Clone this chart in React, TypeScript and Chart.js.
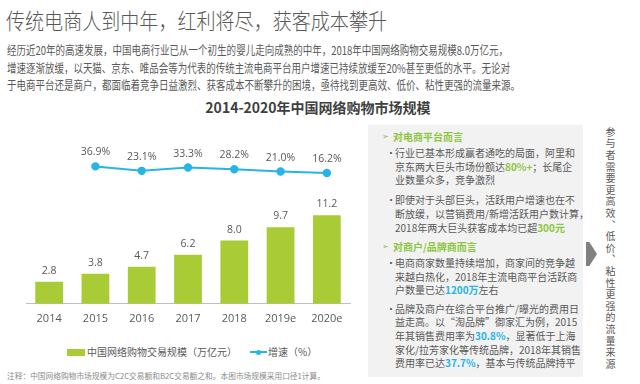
import React, { useEffect, useLayoutEffect, useRef } from "react";
import { Chart, registerables } from "chart.js";

Chart.register(...registerables);

// ---- data ----
const years = ["2014", "2015", "2016", "2017", "2018", "2019e", "2020e"];
const marketScale = [2.8, 3.8, 4.7, 6.2, 8.0, 9.7, 11.2];
const growthRate: (number | null)[] = [null, 36.9, 23.1, 33.3, 28.2, 21.0, 16.2];
const barSeriesName = "中国网络购物交易规模（万亿元）";
const lineSeriesName = "增速（%）";
const chartTitle = "2014-2020年中国网络购物市场规模";
const pageTitle = "传统电商人到中年，红利将尽，获客成本攀升";
const introLines = [
  "经历近20年的高速发展，中国电商行业已从一个初生的婴儿走向成熟的中年，2018年中国网络购物交易规模8.0万亿元，",
  "增速逐渐放缓，以天猫、京东、唯品会等为代表的传统主流电商平台用户增速已持续放缓至20%甚至更低的水平。无论对",
  "于电商平台还是商户，都面临着竞争日益激烈、获客成本不断攀升的困境，亟待找到更高效、低价、粘性更强的流量来源。",
];
const noteText = "注释：中国网络购物市场规模为C2C交易额和B2C交易额之和。本图市场规模采用口径1计算。";
const sideText = "参与者需要更高效、低价、粘性更强的流量来源";

type Seg = { t: string; c?: "g" | "b" };
const platformHeader = "对电商平台而言";
const platformBullets: Seg[][][] = [
  [
    [{ t: "行业已基本形成赢者通吃的局面，阿里和" }],
    [{ t: "京东两大巨头市场份额达" }, { t: "80%+", c: "g" }, { t: "；长尾企" }],
    [{ t: "业数量众多，竞争激烈" }],
  ],
  [
    [{ t: "即使对于头部巨头，活跃用户增速也在不" }],
    [{ t: "断放缓，以营销费用/新增活跃用户数计算，" }],
    [{ t: "2018年两大巨头获客成本均已超" }, { t: "300元", c: "g" }],
  ],
];
const merchantHeader = "对商户/品牌商而言";
const merchantBullets: Seg[][][] = [
  [
    [{ t: "电商商家数量持续增加，商家间的竞争越" }],
    [{ t: "来越白热化，2018年主流电商平台活跃商" }],
    [{ t: "户数量已达" }, { t: "1200万", c: "b" }, { t: "左右" }],
  ],
  [
    [{ t: "品牌及商户在综合平台推广/曝光的费用日" }],
    [{ t: "益走高。以“淘品牌”御家汇为例，2015" }],
    [{ t: "年其销售费用率为" }, { t: "30.8%", c: "b" }, { t: "，显著低于上海" }],
    [{ t: "家化/拉芳家化等传统品牌，2018年其销售" }],
    [{ t: "费用率已达" }, { t: "37.7%", c: "b" }, { t: "，基本与传统品牌持平" }],
  ],
];

// ---- styles ----
const GREEN = "#a8cb36";
const BLUE = "#27b4e6";
const TEXT = "#595959";
const HL_GREEN = "#8cc63e";
const CJK = '"Noto Sans CJK SC", "Open Sans", sans-serif';
const NUM = '"Open Sans", "Noto Sans CJK SC", sans-serif';

function Fit(props: { width: number; style: React.CSSProperties; children: React.ReactNode }) {
  const ref = useRef<HTMLDivElement>(null);
  useLayoutEffect(() => {
    const el = ref.current;
    if (!el) return;
    const apply = () => {
      el.style.transform = "none";
      const w = el.getBoundingClientRect().width;
      if (w > 0) el.style.transform = `scaleX(${props.width / w})`;
    };
    apply();
    (document as any).fonts?.ready?.then(apply);
  });
  return (
    <div
      ref={ref}
      style={{ position: "absolute", whiteSpace: "nowrap", transformOrigin: "0 0", ...props.style }}
    >
      {props.children}
    </div>
  );
}

function Line(props: { segs: Seg[] }) {
  return (
    <div style={{ whiteSpace: "nowrap", height: 13.6 }}>
      {props.segs.map((s, i) => (
        <span
          key={i}
          style={s.c ? { color: s.c === "g" ? HL_GREEN : BLUE, fontWeight: 700 } : undefined}
        >
          {s.t}
        </span>
      ))}
    </div>
  );
}

function Bullet(props: { lines: Seg[][]; mt: number }) {
  return (
    <div style={{ position: "relative", paddingLeft: 27, marginTop: props.mt }}>
      <span style={{ position: "absolute", left: 18, top: 0 }}>•</span>
      {props.lines.map((l, i) => (
        <Line key={i} segs={l} />
      ))}
    </div>
  );
}

function Header(props: { text: string; mt: number }) {
  return (
    <div
      style={{
        position: "relative",
        paddingLeft: 25,
        marginTop: props.mt,
        color: HL_GREEN,
        fontWeight: 700,
        height: 13.6,
        whiteSpace: "nowrap",
      }}
    >
      <span
        style={{
          position: "absolute",
          left: 14,
          top: 0,
          fontWeight: 400,
          fontFamily: '"DejaVu Sans", sans-serif',
          fontSize: 8,
        }}
      >
        ➢
      </span>
      {props.text}
    </div>
  );
}

export default function App() {
  const canvasRef = useRef<HTMLCanvasElement>(null);

  useEffect(() => {
    const valuePlugin = {
      id: "valueLabels",
      afterDatasetsDraw(chart: any) {
        const ctx = chart.ctx;
        ctx.save();
        ctx.fillStyle = TEXT;
        ctx.textAlign = "center";
        ctx.textBaseline = "middle";
        ctx.font = `10.5px ${NUM}`;
        chart.getDatasetMeta(0).data.forEach((el: any, i: number) => {
          ctx.fillText(marketScale[i].toFixed(1), el.x, el.y - 11);
        });
        chart.getDatasetMeta(1).data.forEach((el: any, i: number) => {
          const v = growthRate[i];
          if (v == null) return;
          ctx.fillText(v.toFixed(1) + "%", el.x, el.y - 14);
        });
        ctx.restore();
      },
    };

    const chart = new Chart(canvasRef.current as HTMLCanvasElement, {
      type: "bar",
      data: {
        labels: years,
        datasets: [
          {
            type: "bar",
            label: barSeriesName,
            data: marketScale,
            backgroundColor: GREEN,
            barPercentage: 0.6,
            categoryPercentage: 1,
            yAxisID: "y",
            order: 2,
          },
          {
            type: "line",
            label: lineSeriesName,
            data: growthRate as any,
            borderColor: BLUE,
            backgroundColor: BLUE,
            pointBackgroundColor: BLUE,
            pointBorderColor: BLUE,
            pointRadius: 3.2,
            borderWidth: 2,
            tension: 0,
            yAxisID: "y1",
            order: 1,
          },
        ],
      },
      options: {
        responsive: false,
        animation: false,
        devicePixelRatio: 1,
        layout: { padding: { left: 26, right: 10, top: 10, bottom: 9 } },
        plugins: { legend: { display: false }, tooltip: { enabled: false } },
        scales: {
          x: {
            grid: { display: false, drawTicks: false },
            border: { display: true, color: "#bfbfbf", width: 1 },
            ticks: { color: TEXT, font: { size: 11, family: NUM }, padding: 8, maxRotation: 0 },
          },
          y: { display: false, min: 0, max: 22 },
          y1: { display: false, min: -390, max: 150, position: "right" },
        },
      } as any,
      plugins: [valuePlugin],
    });
    return () => chart.destroy();
  }, []);

  return (
    <div
      style={{
        position: "absolute",
        left: 0,
        top: 0,
        width: 640,
        height: 384,
        overflow: "hidden",
        background: "#ffffff",
        fontFamily: CJK,
        color: TEXT,
      }}
    >
      <Fit
        width={381}
        style={{ left: 6, top: 6, fontSize: 22, lineHeight: "26px", color: TEXT, fontWeight: 300 }}
      >
        {pageTitle}
      </Fit>
      {introLines.map((l, i) => (
        <Fit
          key={i}
          width={[501, 503, 513][i]}
          style={{ left: 7, top: 41.25 + i * 17.5, fontSize: 12, lineHeight: "17.5px", color: TEXT }}
        >
          {l}
        </Fit>
      ))}
      <div
        style={{
          position: "absolute",
          left: 0,
          width: 636,
          top: 98,
          textAlign: "center",
          fontSize: 14,
          lineHeight: "18px",
          fontWeight: 700,
          color: "#404040",
          whiteSpace: "nowrap",
        }}
      >
        {chartTitle}
      </div>

      <canvas
        ref={canvasRef}
        width={360}
        height={222}
        style={{ position: "absolute", left: 0, top: 120 }}
      />

      {/* legend */}
      <div style={{ position: "absolute", left: 67, top: 349, width: 18, height: 7, background: GREEN }} />
      <div
        style={{ position: "absolute", left: 87, top: 345, fontSize: 10, lineHeight: "14px", whiteSpace: "nowrap" }}
      >
        {barSeriesName}
      </div>
      <div style={{ position: "absolute", left: 250, top: 351, width: 17, height: 2, background: BLUE }} />
      <div
        style={{ position: "absolute", left: 256, top: 349.5, width: 5, height: 5, borderRadius: 3, background: BLUE }}
      />
      <div
        style={{ position: "absolute", left: 268, top: 345, fontSize: 10, lineHeight: "14px", whiteSpace: "nowrap" }}
      >
        {lineSeriesName}
      </div>

      <Fit width={318} style={{ left: 7, top: 370, fontSize: 8, lineHeight: "12px", color: "#8c8c8c" }}>
        {noteText}
      </Fit>

      {/* side panel */}
      <div
        style={{
          position: "absolute",
          left: 368,
          top: 125,
          width: 215,
          height: 252,
          background: "#f2f2f2",
          fontSize: 10,
          lineHeight: "13.6px",
          paddingTop: 5.2,
          boxSizing: "border-box",
          color: TEXT,
        }}
      >
        <Header text={platformHeader} mt={0} />
        <Bullet lines={platformBullets[0]} mt={2.4} />
        <Bullet lines={platformBullets[1]} mt={6.4} />
        <Header text={merchantHeader} mt={6.2} />
        <Bullet lines={merchantBullets[0]} mt={2.4} />
        <Bullet lines={merchantBullets[1]} mt={4.8} />
      </div>

      <div
        style={{
          position: "absolute",
          left: 586,
          top: 242,
          width: 11,
          height: 24,
          background: "#808080",
          clipPath: "polygon(0 0, 30% 0, 100% 50%, 30% 100%, 0 100%)",
        }}
      />
      <div
        style={{
          position: "absolute",
          left: 605,
          top: 127,
          writingMode: "vertical-rl",
          fontSize: 10,
          lineHeight: "10px",
          letterSpacing: 1.6,
          color: TEXT,
          whiteSpace: "nowrap",
        }}
      >
        {sideText}
      </div>
    </div>
  );
}
